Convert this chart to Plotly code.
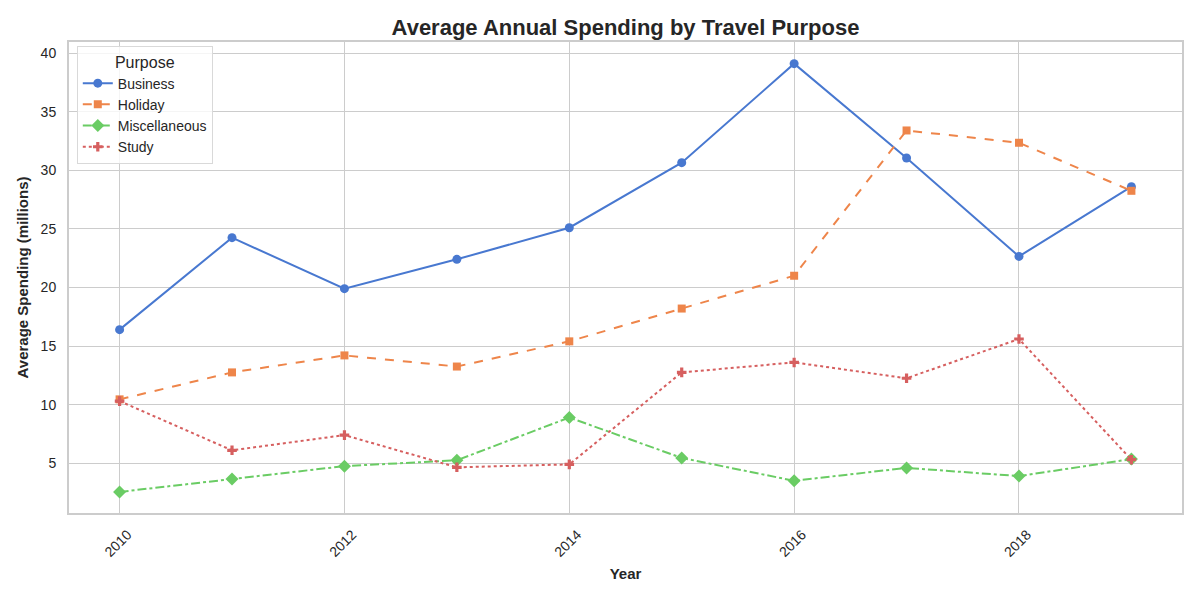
import plotly.graph_objects as go

# Dados
years = [2010, 2011, 2012, 2013, 2014, 2015, 2016, 2017, 2018, 2019]
business = [16.4, 24.25, 19.9, 22.4, 25.1, 30.65, 39.1, 31.05, 22.65, 28.6]
holiday = [10.45, 12.75, 14.2, 13.25, 15.4, 18.2, 21.0, 33.4, 32.35, 28.25]
misc = [2.55, 3.65, 4.75, 5.25, 8.9, 5.45, 3.5, 4.6, 3.9, 5.35]
study = [10.3, 6.1, 7.4, 4.65, 4.9, 12.75, 13.6, 12.25, 15.6, 5.3]

series = [
    ("Business", business, "#4878d0", "solid", "circle", 9),
    ("Holiday", holiday, "#ee854a", "dash", "square", 8),
    ("Miscellaneous", misc, "#6acc64", "dashdot", "diamond", 10),
    ("Study", study, "#d65f5f", "dot", "cross", 8),
]

fig = go.Figure()
for name, vals, color, dash, symbol, size in series:
    fig.add_trace(go.Scatter(
        x=years, y=vals, name=name, mode="lines+markers",
        line=dict(color=color, width=2, dash=dash),
        marker=dict(symbol=symbol, size=size, color=color),
    ))

grid = "#cccccc"
fig.update_layout(
    width=1200, height=600,
    margin=dict(l=69, r=18, t=42, b=87),
    paper_bgcolor="white", plot_bgcolor="white",
    font=dict(family="Liberation Sans, Arial, sans-serif", color="#262626", size=14),
    title=dict(text="<b>Average Annual Spending by Travel Purpose</b>",
               x=0.5, xref="paper", xanchor="center", y=0.955, yanchor="middle",
               font=dict(size=22)),
    legend=dict(
        title=dict(text="Purpose", font=dict(size=16), side="top center"),
        x=0.007, y=0.992, xanchor="left", yanchor="top",
        bgcolor="rgba(255,255,255,0.8)", bordercolor="#d9d9d9", borderwidth=1,
        font=dict(size=14), tracegroupgap=0,
    ),
)
fig.update_xaxes(
    range=[2009.55, 2019.45], tickvals=[2010, 2012, 2014, 2016, 2018],
    tickangle=-45, ticklabelstandoff=6, ticklabelshift=8,
    showgrid=True, gridcolor=grid, gridwidth=1,
    showline=True, linecolor=grid, linewidth=2, mirror=True, zeroline=False,
    title=dict(text="<b>Year</b>", font=dict(size=15), standoff=10),
    ticks="",
)
fig.update_yaxes(
    range=[0.75, 40.95], tickvals=[5, 10, 15, 20, 25, 30, 35, 40],
    ticklabelstandoff=8,
    showgrid=True, gridcolor=grid, gridwidth=1,
    showline=True, linecolor=grid, linewidth=2, mirror=True, zeroline=False,
    title=dict(text="<b>Average Spending (millions)</b>", font=dict(size=15), standoff=8),
    ticks="",
)

# tirar a margem padrão do body para o gráfico ficar no canto
fig.write_html("out.html", config={"displayModeBar": False},
               post_script="document.body.style.margin='0';")
